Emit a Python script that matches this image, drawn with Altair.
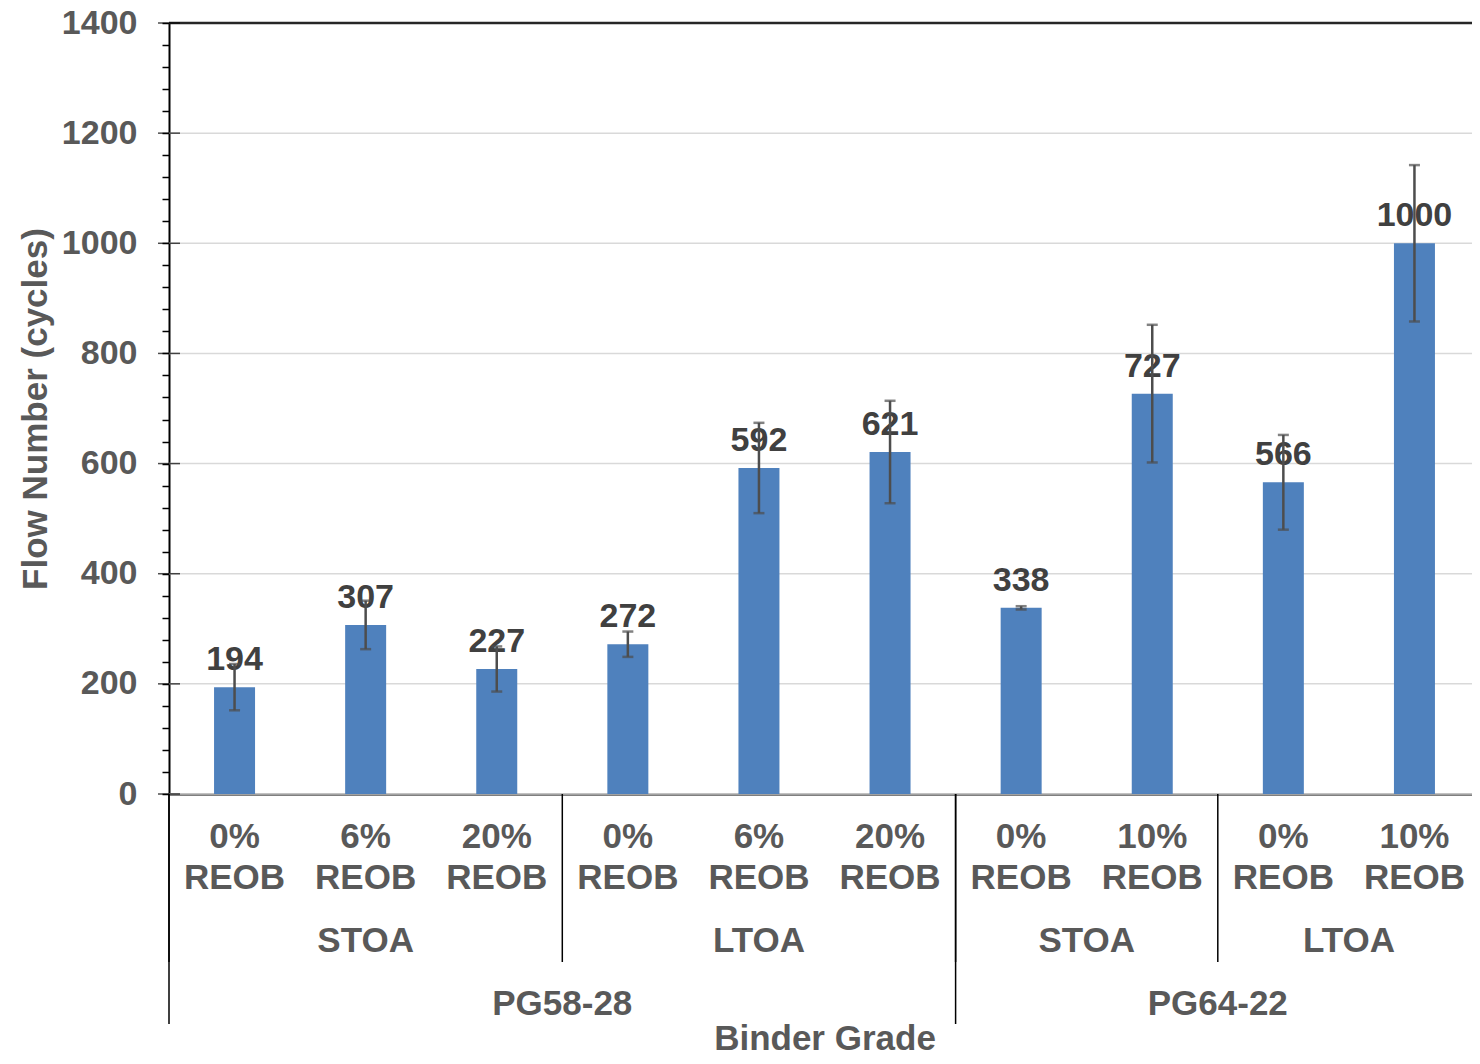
import altair as alt
import pandas as pd
import numpy as np

# ---- data ----
grades = ["PG58-28"] * 6 + ["PG64-22"] * 4
aging = ["STOA", "STOA", "STOA", "LTOA", "LTOA", "LTOA", "STOA", "STOA", "LTOA", "LTOA"]
reob = ["0%", "6%", "20%", "0%", "6%", "20%", "0%", "10%", "0%", "10%"]
flow = [194, 307, 227, 272, 592, 621, 338, 727, 566, 1000]
err_lo = [152, 263, 186, 249, 510, 528, 335, 602, 480, 858]
err_hi = [236, 351, 268, 295, 674, 714, 341, 852, 652, 1142]
major_ticks = [0, 200, 400, 600, 800, 1000, 1200, 1400]
minor_ticks = list(range(0, 1401, 40))

W, H = 1311, 771
FONT = "Liberation Sans"
GRAY = "#595959"
DARK = "#404040"
BAR = "#4F81BD"

df = pd.DataFrame({
    "grade": grades,
    "aging": aging,
    "reob": reob,
    "unit": ["REOB"] * len(flow),
    "flow": flow,
    "lo": err_lo,
    "hi": err_hi,
    "pos": np.arange(len(flow)) + 0.5,
})
grid_df = pd.DataFrame({"v": major_ticks})

xs = alt.Scale(domain=[0, len(flow)], nice=False, zero=False, padding=0)
ys = alt.Scale(domain=[0, 1400], nice=False, padding=0)

xaxis = alt.Axis(labels=False, ticks=False, grid=False, domain=True,
                 domainColor="black", domainWidth=2,
                 title="Binder Grade", titleFont=FONT, titleFontSize=35,
                 titleFontWeight="bold", titleColor=GRAY, titlePadding=227)
yaxis = alt.Axis(values=minor_ticks, format="d",
                 labelExpr="datum.value % 200 == 0 ? datum.label : ''",
                 labelOverlap=False, tickSize=7, tickColor="black", tickWidth=1.5,
                 domainColor="black", domainWidth=2, grid=False,
                 labelFont=FONT, labelFontSize=34, labelFontWeight="bold",
                 labelColor=GRAY, labelPadding=25,
                 title="Flow Number (cycles)", titleFont=FONT, titleFontSize=35,
                 titleFontWeight="bold", titleColor=GRAY, titlePadding=8)

X = lambda f: alt.X(f, scale=xs, axis=xaxis)
Y = lambda f: alt.Y(f, scale=ys, axis=yaxis)

grid = alt.Chart(grid_df).mark_rule().encode(
    y=Y("v:Q"),
    x=alt.value(0), x2=alt.value(W),
    color=alt.condition("datum.v == 1400", alt.value("#262626"), alt.value("#d9d9d9")),
    strokeWidth=alt.condition("datum.v == 1400", alt.value(2.5), alt.value(1.5)),
)

major = alt.Chart(grid_df).mark_tick(orient="horizontal", size=22, thickness=1.5,
                                     color="black").encode(
    y=Y("v:Q"), x=alt.value(0))

bars = alt.Chart(df).mark_bar(size=41, color=BAR).encode(x=X("pos:Q"), y=Y("flow:Q"))

labels = alt.Chart(df).mark_text(font=FONT, fontSize=34, fontWeight="bold", color=DARK,
                                 baseline="alphabetic", align="center", dy=-17).encode(
    x=X("pos:Q"), y=Y("flow:Q"), text=alt.Text("flow:Q", format="d"))

err = alt.Chart(df).mark_rule(color="#4d4d4d", strokeWidth=2.5).encode(
    x=X("pos:Q"), y=Y("lo:Q"), y2="hi:Q")
cap_hi = alt.Chart(df).mark_tick(orient="horizontal", size=11, thickness=2.5,
                                 color="#4d4d4d").encode(x=X("pos:Q"), y=Y("hi:Q"))
cap_lo = alt.Chart(df).mark_tick(orient="horizontal", size=11, thickness=2.5,
                                 color="#4d4d4d").encode(x=X("pos:Q"), y=Y("lo:Q"))

txt = dict(font=FONT, fontSize=35, fontWeight="bold", color=GRAY,
           baseline="alphabetic", align="center")

row1 = alt.Chart(df).mark_text(**txt).encode(x=X("pos:Q"), y=alt.value(H + 54), text="reob:N")
row2 = alt.Chart(df).mark_text(**txt).encode(x=X("pos:Q"), y=alt.value(H + 95), text="unit:N")

row3 = alt.Chart(df).transform_aggregate(
    center="mean(pos)", groupby=["grade", "aging"]
).mark_text(**txt).encode(x=X("center:Q"), y=alt.value(H + 158), text="aging:N")

row4 = alt.Chart(df).transform_aggregate(
    center="mean(pos)", groupby=["grade"]
).mark_text(**txt).encode(x=X("center:Q"), y=alt.value(H + 221), text="grade:N")

sep_short = alt.Chart(df).transform_aggregate(
    start="min(pos)", groupby=["grade", "aging"]
).transform_calculate(edge="datum.start - 0.5").mark_rule(
    color="black", strokeWidth=1.5).encode(x=X("edge:Q"), y=alt.value(H), y2=alt.value(H + 168))

sep_tall = alt.Chart(df).transform_aggregate(
    start="min(pos)", groupby=["grade"]
).transform_calculate(edge="datum.start - 0.5").mark_rule(
    color="black", strokeWidth=1.5).encode(x=X("edge:Q"), y=alt.value(H), y2=alt.value(H + 230))

chart = alt.layer(
    grid, bars, labels, err, cap_hi, cap_lo, major,
    row1, row2, row3, row4, sep_short, sep_tall
).properties(
    width=W, height=H,
    autosize=alt.AutoSizeParams(type="none"),
    padding={"left": 161, "top": 15, "right": -8, "bottom": 262},
).configure_view(stroke=None)

chart.save("out.html", embed_options={"renderer": "svg", "actions": False})
